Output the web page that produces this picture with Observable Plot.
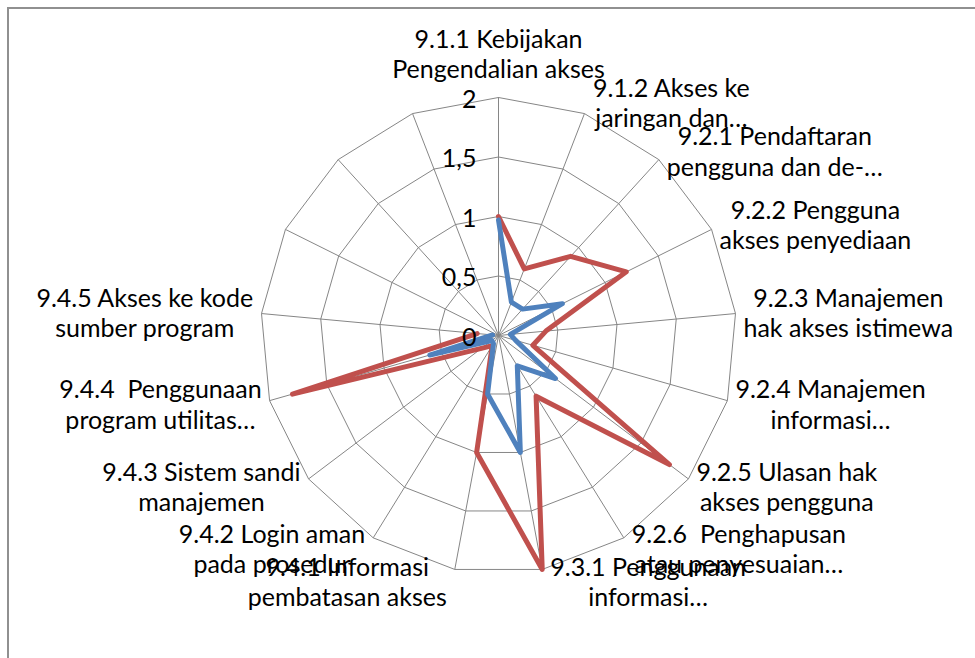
<!DOCTYPE html>
<html><head><meta charset="utf-8">
<script src="https://cdn.jsdelivr.net/npm/d3@7"></script>
<script src="https://cdn.jsdelivr.net/npm/@observablehq/plot@0.6"></script>
<style>
html,body{margin:0;padding:0;background:#fff;overflow:hidden;}
#wrap{position:relative;width:975px;height:658px;overflow:hidden;}
#frame{position:absolute;left:7px;top:7px;width:1300px;height:1000px;border:2px solid #909090;box-sizing:border-box;}
#chart{position:absolute;left:0;top:0;}
svg text{white-space:pre;}
</style></head><body>
<div id="wrap"><div id="frame"></div><div id="chart"></div></div>
<script>
// ---- data ----
const categories = [
  "9.1.1 Kebijakan\nPengendalian akses",
  "9.1.2 Akses ke\njaringan dan…",
  "9.2.1 Pendaftaran\npengguna dan de-…",
  "9.2.2 Pengguna\nakses penyediaan",
  "9.2.3 Manajemen\nhak akses istimewa",
  "9.2.4 Manajemen\ninformasi…",
  "9.2.5 Ulasan hak\nakses pengguna",
  "9.2.6  Penghapusan\natau penyesuaian…",
  "9.3.1 Penggunaan\ninformasi…",
  "9.4.1 Informasi\npembatasan akses",
  "9.4.2 Login aman\npada prosedur",
  "9.4.3 Sistem sandi\nmanajemen",
  "9.4.4  Penggunaan\nprogram utilitas…",
  "9.4.5 Akses ke kode\nsumber program",
  "",
  "",
  ""
];
const seriesRed  = [1, 0.6, 0.9, 1.2, 0.4, 0.3, 1.8, 0.6, 2, 1, 0.1, 0.18, 1.8, 0.18, null, null, null];
const seriesBlue = [0.97, 0.3, 0.3, 0.6, 0.1, 0.15, 0.6, 0.3, 1, 0.5, 0.08, 0.07, 0.6, 0.05, null, null, null];
const tickValues = [0, 0.5, 1, 1.5, 2];
const tickLabels = ["0", "0,5", "1", "1,5", "2"];

// ---- layout ----
const W = 975, H = 658;
const cx = 498, cy = 335, k = 119;       // pixels per unit
const rMax = 2;
const FONT = 25, FAMILY = "Lato, 'Open Sans', sans-serif";
const n = categories.length;
const ang = i => 2 * Math.PI * i / n;

// measure label widths
const ctx = document.createElement("canvas").getContext("2d");
ctx.font = `${FONT}px ${FAMILY}`;
const lineH = FONT * 1.22;

// grid rings
const rings = [];
tickValues.filter(t => t > 0).forEach(t => {
  for (let i = 0; i <= n; i++) rings.push({ring: t, x: t * Math.sin(ang(i % n)), y: t * Math.cos(ang(i % n))});
});
const spokes = d3.range(n).map(i => ({x2: rMax * Math.sin(ang(i)), y2: rMax * Math.cos(ang(i))}));

function seriesPts(vals) {
  return vals.map((v, i) => v == null ? {x: NaN, y: NaN} : {x: v * Math.sin(ang(i)), y: v * Math.cos(ang(i))});
}

const labels = [];
categories.forEach((c, i) => {
  if (!c) return;
  const lines = c.split("\n");
  const w = Math.max(...lines.map(l => ctx.measureText(l).width));
  const s = Math.sin(ang(i)), co = Math.cos(ang(i));
  const vx = rMax * s, vy = rMax * co;
  let lx, ly;
  if (i === 0) {
    lx = 0;
    ly = vy + (14 + lines.length * lineH / 2) / k;
  } else {
    lx = vx + Math.sign(s) * (8 + w / 2) / k;
    ly = vy + (12 * co) / k;
  }
  labels.push({text: c, x: lx, y: ly});
});

const ticks = tickValues.map((t, i) => ({x: 0, y: t, label: tickLabels[i]}));

const plot = Plot.plot({
  width: W, height: H, margin: 0,
  style: {fontFamily: FAMILY, fontSize: FONT + "px", background: "transparent", overflow: "visible"},
  x: {domain: [-cx / k, (W - cx) / k], range: [0, W], axis: null},
  y: {domain: [-(H - cy) / k, cy / k], range: [H, 0], axis: null},
  marks: [
    Plot.line(rings, {x: "x", y: "y", z: "ring", stroke: "#868686", strokeWidth: 1}),
    Plot.link(spokes, {x1: 0, y1: 0, x2: "x2", y2: "y2", stroke: "#868686", strokeWidth: 1}),
    Plot.line(seriesPts(seriesRed), {x: "x", y: "y", stroke: "#C0504D", strokeWidth: 5, strokeLinejoin: "round", strokeLinecap: "round"}),
    Plot.line(seriesPts(seriesBlue), {x: "x", y: "y", stroke: "#4F81BD", strokeWidth: 5, strokeLinejoin: "round", strokeLinecap: "round"}),
    Plot.text(ticks, {x: "x", y: "y", text: "label", dx: -22, dy: 2, textAnchor: "end", fill: "#000", fontSize: FONT}),
    Plot.text(labels, {x: "x", y: "y", text: "text", textAnchor: "middle", lineAnchor: "middle", lineHeight: 1.22, fill: "#000", fontSize: FONT})
  ]
});
document.getElementById("chart").appendChild(plot);
</script>
</body></html>
